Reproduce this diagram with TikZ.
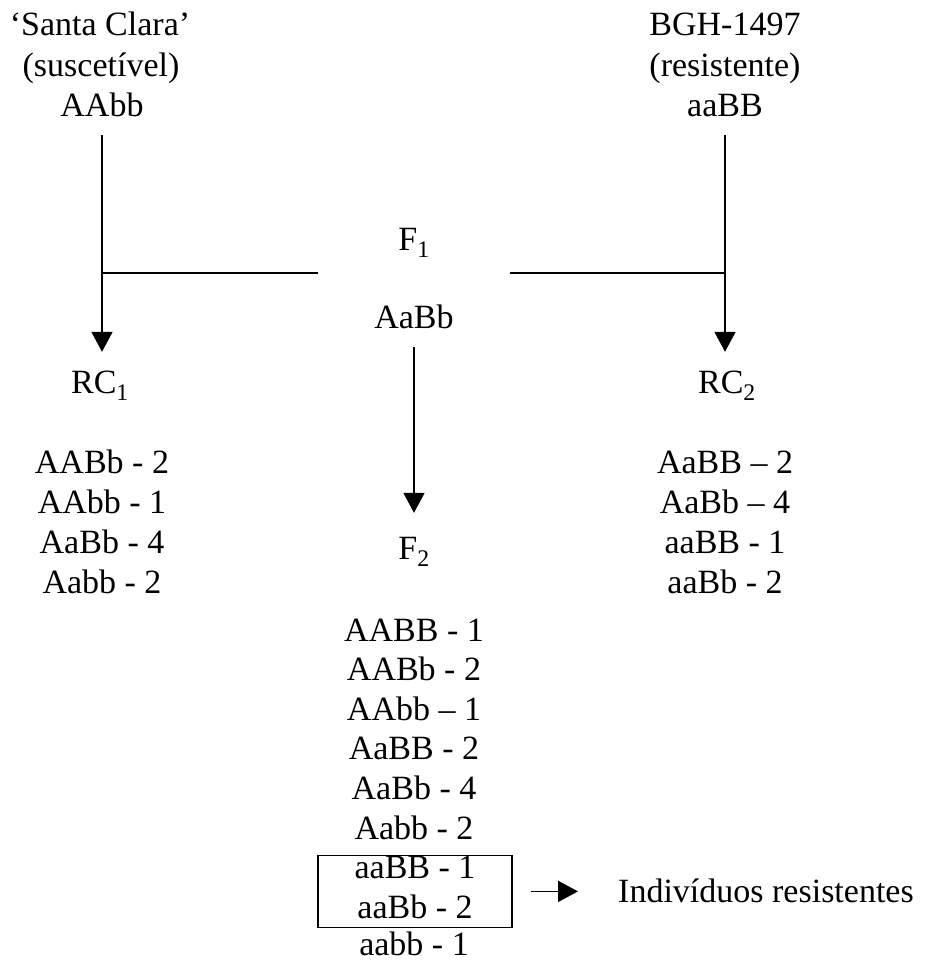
\documentclass[tikz,border=0pt]{standalone}
\usepackage{fontspec}
\setmainfont{Liberation Serif}
\usetikzlibrary{arrows.meta,fit}
\tikzset{
  lbl/.style={anchor=base, inner sep=0pt, text height=23pt, text depth=9pt, font=\fontsize{34}{40}\selectfont},
  ln/.style={line width=1.8pt},
  arr/.style={ln, -{Triangle[length=20pt,width=21pt]}}
}

\begin{document}
\begin{tikzpicture}[x=1pt,y=-1pt]
  \useasboundingbox (0,0) rectangle (925,963);
  \node[lbl] (sc1) at (100,36) {‘Santa Clara’};
  \node[lbl] (sc2) at (101,77) {(suscetível)};
  \node[lbl] (p1) at (102,117) {AAbb};
  \node[lbl] (bgh1) at (725,36) {BGH-1497};
  \node[lbl] (bgh2) at (725,77) {(resistente)};
  \node[lbl] (p2) at (725,117) {aaBB};

  \node[lbl] (f1) at (414,250) {F\textsubscript{1}};
  \node[lbl] (f1g) at (414,328) {AaBb};
  \coordinate (hl) at (318,273);
  \coordinate (hr) at (510,273);

  \node[lbl] (rc1) at (100,393) {RC\textsubscript{1}};
  \node[lbl] (rc2) at (727,393) {RC\textsubscript{2}};
  \node[lbl] (f2) at (414,559) {F\textsubscript{2}};

  \draw[arr, shorten <=9pt, shorten >=18pt] (p1) -- (p1 |- rc1.north);
  \draw[arr, shorten <=9pt, shorten >=18pt] (p2) -- (p2 |- rc2.north);
  \draw[ln] (hl) -- (hl -| p1);
  \draw[ln] (hr) -- (hr -| p2);
  \draw[arr, shorten <=10pt, shorten >=23pt] (f1g) -- (f1g |- f2.north);

  \node[lbl] (l1) at (102,473) {AABb - 2};
  \node[lbl] (l2) at (102,513) {AAbb - 1};
  \node[lbl] (l3) at (102,553) {AaBb - 4};
  \node[lbl] (l4) at (102,593) {Aabb - 2};

  \node[lbl] (r1) at (725,473) {AaBB – 2};
  \node[lbl] (r2) at (725,513) {AaBb – 4};
  \node[lbl] (r3) at (725,553) {aaBB - 1};
  \node[lbl] (r4) at (725,593) {aaBb - 2};

  \node[lbl] (m1) at (414,641) {AABB - 1};
  \node[lbl] (m2) at (414,680.6) {AABb - 2};
  \node[lbl] (m3) at (414,720.2) {AAbb – 1};
  \node[lbl] (m4) at (414,759.8) {AaBB - 2};
  \node[lbl] (m5) at (414,799.4) {AaBb - 4};
  \node[lbl] (m6) at (414,839) {Aabb - 2};
  \node[lbl] (m7) at (415,878.6) {aaBB - 1};
  \node[lbl] (m8) at (415,918.2) {aaBb - 2};
  \node[lbl, text depth=0pt] (m9) at (414,955.5) {aabb - 1};

  \node[draw, ln, fit=(m7)(m8), inner xsep=36.5pt, inner ysep=0pt] (resbox) {};
  \node[lbl, anchor=base west] (ind) at (618,902) {Indivíduos resistentes};
  \draw[arr, shorten <=18pt, shorten >=40pt] (resbox.east) -- (resbox.east -| ind.west);
\end{tikzpicture}
\end{document}
